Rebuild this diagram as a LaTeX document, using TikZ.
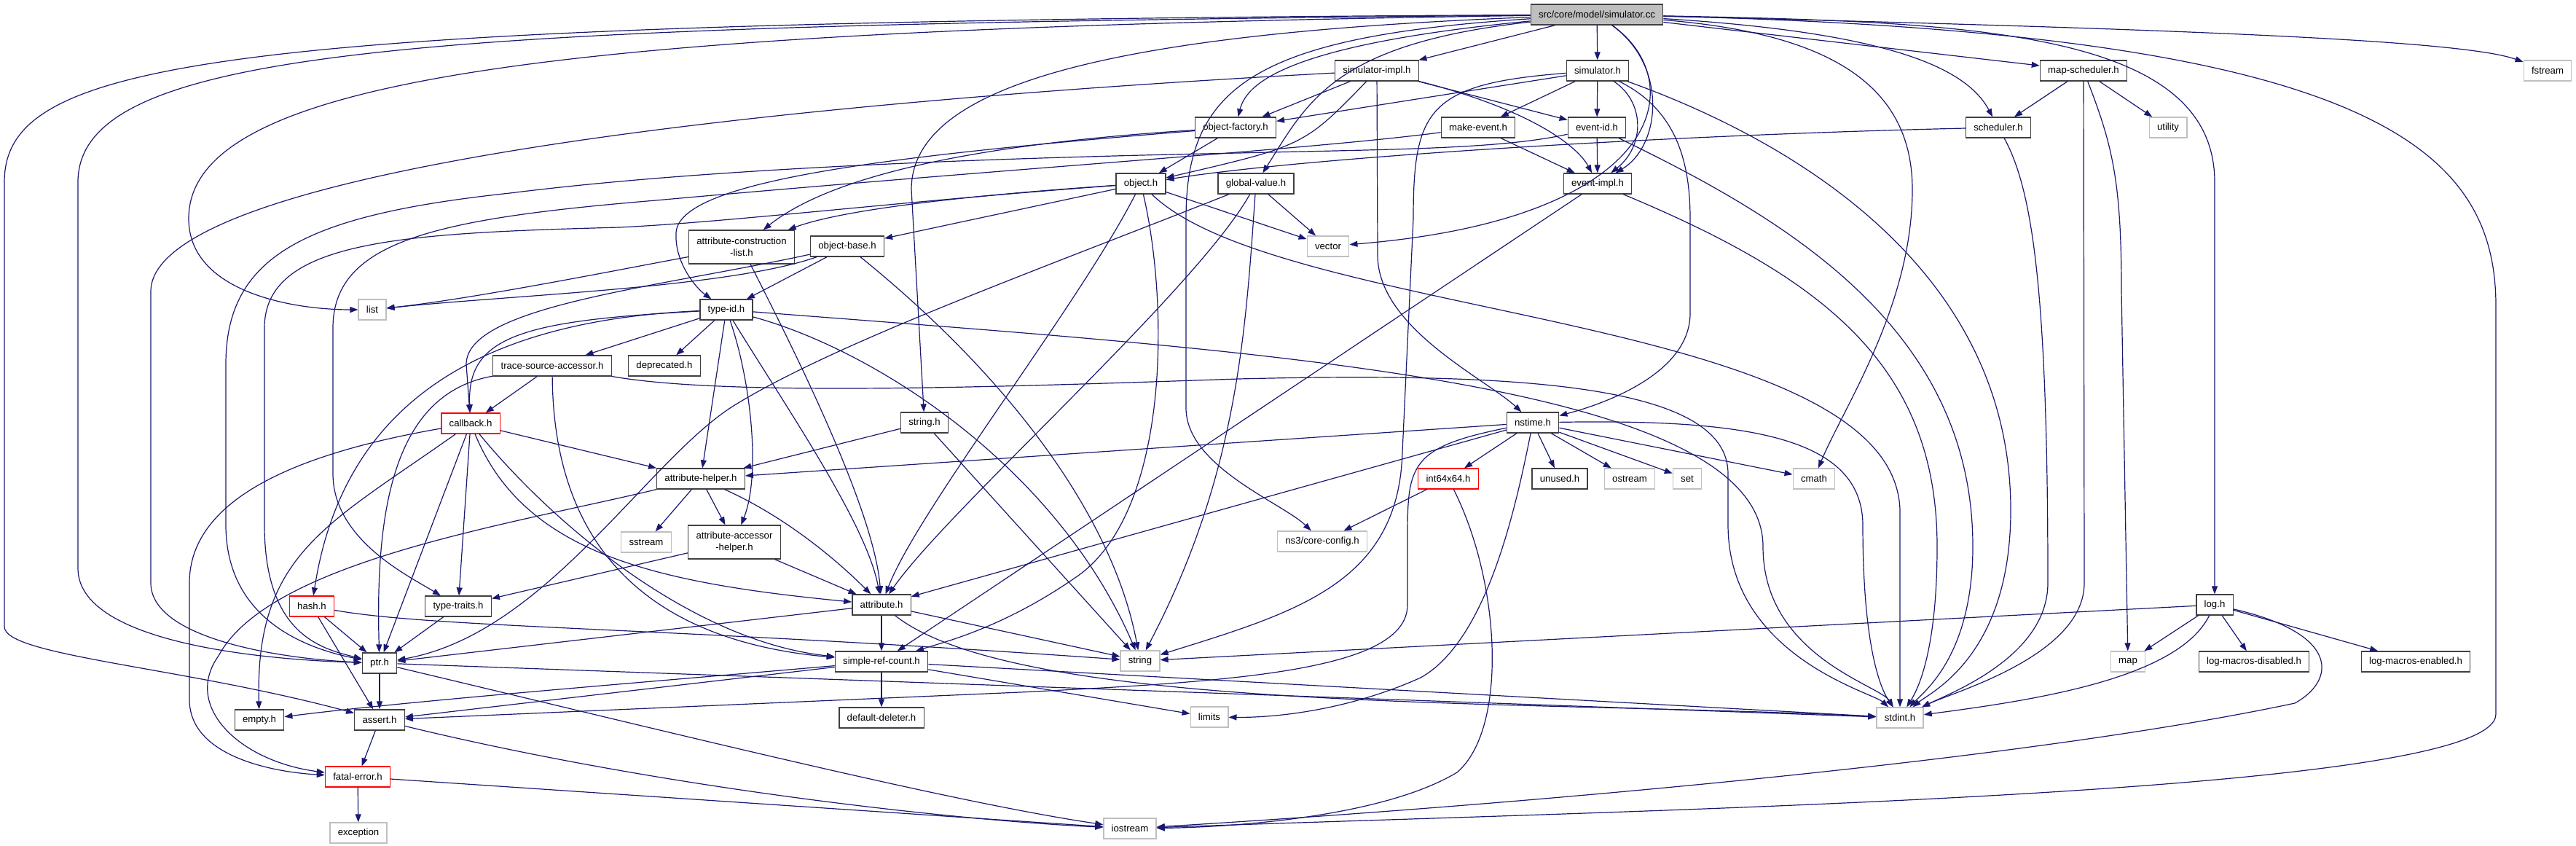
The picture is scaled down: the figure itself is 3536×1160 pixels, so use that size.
\documentclass[tikz,border=0pt]{standalone}
\usepackage{fontspec}
\setmainfont{Liberation Sans}
\usetikzlibrary{arrows.meta}
\definecolor{incblue}{HTML}{191970}
\definecolor{sysgrey}{HTML}{BFBFBF}
\definecolor{boxline}{HTML}{404040}
\tikzset{
  hdr/.style={draw=boxline,line width=1.3pt,fill=white,font=\fontsize{13.2}{15.8}\selectfont,
    inner xsep=10.8pt,inner ysep=0pt,minimum height=28pt,align=center},
  sysh/.style={hdr,draw=sysgrey},
  cuth/.style={hdr,draw=red},
  rooth/.style={hdr,fill=sysgrey},
  twoline/.style={minimum height=46pt},
  inc/.style={draw=incblue,line width=1.2pt,-{Triangle[length=11pt,width=8pt]}}
}

\begin{document}
\begin{tikzpicture}[x=1pt,y=-1pt]
\useasboundingbox (0,0) rectangle (3536,1160);
\node[rooth] (simcc) at (2192,20) {src/core/model/simulator.cc};
\node[hdr] (simimpl) at (1890,97) {simulator-impl.h};
\node[hdr] (simh) at (2193,97) {simulator.h};
\node[hdr] (mapsched) at (2860,97) {map-scheduler.h};
\node[sysh] (fstream) at (3497,97) {fstream};
\node[hdr] (objfact) at (1696,175) {object-factory.h};
\node[hdr] (makeev) at (2029,175) {make-event.h};
\node[hdr] (evid) at (2192,175) {event-id.h};
\node[hdr] (sched) at (2743,175) {scheduler.h};
\node[sysh] (utility) at (2976,175) {utility};
\node[hdr] (object) at (1566,252) {object.h};
\node[hdr] (globval) at (1724,252) {global-value.h};
\node[hdr] (evimpl) at (2193,252) {event-impl.h};
\node[hdr,twoline] (attrcl) at (1018,339) {attribute-construction\\-list.h};
\node[hdr] (objbase) at (1163,338) {object-base.h};
\node[sysh] (vector) at (1823,338) {vector};
\node[sysh] (list) at (511,425) {list};
\node[hdr] (typeid) at (997,425) {type-id.h};
\node[hdr] (tsacc) at (758,502) {trace-source-accessor.h};
\node[hdr] (deprec) at (912,502) {deprecated.h};
\node[cuth] (callback) at (646,581) {callback.h};
\node[hdr] (stringh) at (1269,580) {string.h};
\node[hdr] (nstime) at (2104,580) {nstime.h};
\node[cuth] (int64) at (1988,657) {int64x64.h};
\node[hdr] (unused) at (2141,657) {unused.h};
\node[sysh] (ostream) at (2237,657) {ostream};
\node[sysh] (stdset) at (2316,657) {set};
\node[sysh] (cmath) at (2490,657) {cmath};
\node[hdr] (attrhelp) at (962,657) {attribute-helper.h};
\node[sysh] (sstream) at (887,744) {sstream};
\node[sysh] (coreconf) at (1815,743) {ns3/core-config.h};
\node[hdr,twoline] (attracc) at (1008,744) {attribute-accessor\\-helper.h};
\node[cuth] (hash) at (428,832) {hash.h};
\node[hdr] (typetr) at (629,832) {type-traits.h};
\node[hdr] (attr) at (1210,830) {attribute.h};
\node[hdr] (log) at (3040,830) {log.h};
\node[hdr] (ptr) at (521,910) {ptr.h};
\node[sysh] (string) at (1565,907) {string};
\node[sysh] (map) at (2921,908) {map};
\node[hdr] (logdis) at (3094,908) {log-macros-disabled.h};
\node[hdr] (logen) at (3316,908) {log-macros-enabled.h};
\node[hdr] (srefc) at (1210,908) {simple-ref-count.h};
\node[sysh] (limits) at (1660,984) {limits};
\node[sysh] (stdint) at (2608,985) {stdint.h};
\node[hdr] (empty) at (356,988) {empty.h};
\node[hdr] (assert) at (521,988) {assert.h};
\node[hdr] (deleter) at (1210,985) {default-deleter.h};
\node[cuth] (fatal) at (491,1066) {fatal-error.h};
\node[sysh] (exception) at (492,1143) {exception};
\node[sysh] (iostream) at (1551,1137) {iostream};

\draw[inc] (simcc) -- (simh);
\draw[inc] (simcc) -- (simimpl);
\draw[inc] (simcc) -- (mapsched);
\draw[inc] (simcc) .. controls (2600,45) and (2700,95) .. (sched);
\draw[inc] (simcc) .. controls (3000,40) and (3380,55) .. (fstream);
\draw[inc] (simcc) .. controls (2700,30) and (3040,40) .. (3040,250) -- (log);
\draw[inc] (simcc) .. controls (3250,45) and (3426,200) .. (3426,420) -- (3426,980) .. controls (3426,1090) and (2300,1110) .. (iostream);
\draw[inc] (simcc) .. controls (2500,45) and (2625,110) .. (2625,260) .. controls (2625,420) and (2530,560) .. (cmath);
\draw[inc] (simcc) .. controls (2320,110) and (2290,300) .. (vector);
\draw[inc] (simcc) .. controls (2290,90) and (2280,200) .. (evimpl);
\draw[inc] (simcc) .. controls (1780,60) and (1712,110) .. (objfact);
\draw[inc] (simcc) .. controls (1830,60) and (1795,140) .. (globval);
\draw[inc] (simcc) .. controls (1550,45) and (1251,110) .. (1251,260) -- (stringh);
\draw[inc] (simcc) .. controls (1720,50) and (1628,120) .. (1628,300) -- (1628,560) .. controls (1628,640) and (1760,690) .. (coreconf);
\draw[inc] (simcc) .. controls (800,40) and (259,100) .. (259,300) .. controls (259,400) and (400,425) .. (list);
\draw[inc] (simcc) .. controls (600,35) and (107,60) .. (107,250) -- (107,780) .. controls (107,880) and (350,905) .. (ptr);
\draw[inc] (simcc) .. controls (300,30) and (6,80) .. (6,250) -- (6,860) .. controls (6,900) and (250,915) .. (assert);

\draw[inc] (simimpl) -- (objfact);
\draw[inc] (simimpl) .. controls (1790,200) .. (object);
\draw[inc] (simimpl) -- (evid);
\draw[inc] (simimpl) .. controls (2100,150) and (2165,200) .. (evimpl);
\draw[inc] (simimpl) -- (1891,350) .. controls (1891,450) and (2040,520) .. (nstime);
\draw[inc] (simimpl) .. controls (900,150) and (207,250) .. (207,400) -- (207,800) .. controls (207,880) and (400,905) .. (ptr);

\draw[inc] (simh) -- (objfact);
\draw[inc] (simh) -- (makeev);
\draw[inc] (simh) -- (evid);
\draw[inc] (simh) .. controls (2258,140) and (2258,200) .. (evimpl);
\draw[inc] (simh) .. controls (2300,150) and (2320,220) .. (2320,300) -- (2320,430) .. controls (2320,520) and (2180,560) .. (nstime);
\draw[inc] (simh) .. controls (2480,200) and (2760,380) .. (2760,700) .. controls (2760,900) and (2650,950) .. (stdint);
\draw[inc] (simh) .. controls (1960,115) and (1940,150) .. (1940,300) -- (1925,620) .. controls (1920,800) and (1780,840) .. (string);

\draw[inc] (mapsched) -- (sched);
\draw[inc] (mapsched) -- (utility);
\draw[inc] (mapsched) -- (2861,800) .. controls (2861,900) and (2680,950) .. (stdint);
\draw[inc] (mapsched) .. controls (2900,200) and (2912,250) .. (2912,400) -- (map);

\draw[inc] (sched) .. controls (2300,185) and (1800,215) .. (object);
\draw[inc] (sched) .. controls (2790,260) and (2811,400) .. (2811,800) .. controls (2811,900) and (2680,950) .. (stdint);

\draw[inc] (evid) -- (evimpl);
\draw[inc] (evid) .. controls (2060,205) and (1900,205) .. (1700,210) .. controls (1200,220) and (900,240) .. (700,265) .. controls (420,295) and (310,350) .. (310,500) -- (310,720) .. controls (310,850) and (420,890) .. (ptr);
\draw[inc] (evid) .. controls (2450,300) and (2708,450) .. (2708,750) .. controls (2708,900) and (2640,950) .. (stdint);

\draw[inc] (makeev) -- (evimpl);
\draw[inc] (makeev) .. controls (1800,205) and (1400,230) .. (900,275) .. controls (600,300) and (457,330) .. (457,450) -- (457,650) .. controls (457,740) and (560,790) .. (typetr);

\draw[inc] (evimpl) -- (srefc);
\draw[inc] (evimpl) .. controls (2500,380) and (2659,500) .. (2659,750) .. controls (2659,900) and (2630,950) .. (stdint);

\draw[inc] (objfact) .. controls (1300,200) and (1130,250) .. (attrcl);
\draw[inc] (objfact) -- (object);
\draw[inc] (objfact) .. controls (1200,215) and (930,250) .. (928,320) .. controls (926,360) and (955,395) .. (typeid);

\draw[inc] (object) -- (vector);
\draw[inc] (object) .. controls (1300,270) and (1150,290) .. (attrcl);
\draw[inc] (object) -- (objbase);
\draw[inc] (object) .. controls (1250,275) and (1000,305) .. (850,312) .. controls (550,320) and (363,330) .. (363,450) -- (363,720) .. controls (363,870) and (440,890) .. (ptr);
\draw[inc] (object) .. controls (1480,420) and (1260,700) .. (attr);
\draw[inc] (object) .. controls (1605,420) and (1605,700) .. (1480,790) .. controls (1380,860) and (1300,880) .. (srefc);
\draw[inc] (object) .. controls (1760,440) and (2600,430) .. (2608,700) -- (stdint);

\draw[inc] (globval) -- (vector);
\draw[inc] (globval) .. controls (1400,380) and (1150,470) .. (1010,555) .. controls (890,628) and (750,870) .. (ptr);
\draw[inc] (globval) .. controls (1640,400) and (1300,700) .. (attr);
\draw[inc] (globval) .. controls (1710,450) and (1700,650) .. (string);

\draw[inc] (objbase) -- (typeid);
\draw[inc] (objbase) .. controls (1000,395) and (700,405) .. (list);
\draw[inc] (objbase) .. controls (900,395) and (640,420) .. (640,500) -- (callback);
\draw[inc] (objbase) .. controls (1400,530) and (1530,720) .. (string);

\draw[inc] (attrcl) .. controls (850,370) and (650,410) .. (list);
\draw[inc] (attrcl) .. controls (1090,480) and (1200,700) .. (attr);

\draw[inc] (typeid) -- (tsacc);
\draw[inc] (typeid) -- (deprec);
\draw[inc] (typeid) -- (attrhelp);
\draw[inc] (typeid) .. controls (1030,520) and (1045,650) .. (attracc);
\draw[inc] (typeid) .. controls (1080,560) and (1190,720) .. (attr);
\draw[inc] (typeid) .. controls (1200,480) and (1450,640) .. (string);
\draw[inc] (typeid) .. controls (1700,480) and (2420,520) .. (2420,750) .. controls (2420,900) and (2580,940) .. (stdint);
\draw[inc] (typeid) .. controls (720,440) and (640,460) .. (callback);
\draw[inc] (typeid) .. controls (650,440) and (470,560) .. (hash);

\draw[inc] (tsacc) -- (callback);
\draw[inc] (tsacc) .. controls (540,540) and (515,700) .. (ptr);
\draw[inc] (tsacc) .. controls (760,760) and (900,880) .. (srefc);
\draw[inc] (tsacc) .. controls (1000,545) and (1400,530) .. (1700,520) .. controls (2100,510) and (2372,530) .. (2372,650) -- (2372,720) .. controls (2372,900) and (2570,950) .. (stdint);

\draw[inc] (callback) -- (attrhelp);
\draw[inc] (callback) -- (ptr);
\draw[inc] (callback) -- (typetr);
\draw[inc] (callback) .. controls (450,720) and (350,760) .. (empty);
\draw[inc] (callback) .. controls (720,760) and (900,800) .. (attr);
\draw[inc] (callback) .. controls (760,720) and (950,880) .. (srefc);
\draw[inc] (callback) .. controls (420,620) and (260,680) .. (260,800) -- (260,960) .. controls (260,1040) and (380,1060) .. (fatal);

\draw[inc] (stringh) -- (attrhelp);
\draw[inc] (stringh) -- (string);

\draw[inc] (nstime) -- (attrhelp);
\draw[inc] (nstime) -- (attr);
\draw[inc] (nstime) .. controls (1930,615) and (1932,640) .. (1932,750) -- (1932,830) .. controls (1932,920) and (1700,935) .. (1400,950) -- (assert);
\draw[inc] (nstime) .. controls (2080,700) and (2040,880) .. (1950,930) .. controls (1850,975) and (1750,985) .. (limits);
\draw[inc] (nstime) -- (int64);
\draw[inc] (nstime) -- (unused);
\draw[inc] (nstime) -- (ostream);
\draw[inc] (nstime) -- (stdset);
\draw[inc] (nstime) -- (cmath);
\draw[inc] (nstime) .. controls (2400,575) and (2556,600) .. (2557,720) .. controls (2557,900) and (2585,950) .. (stdint);

\draw[inc] (int64) -- (coreconf);
\draw[inc] (int64) .. controls (2060,800) and (2070,1000) .. (2000,1060) .. controls (1900,1120) and (1700,1135) .. (iostream);

\draw[inc] (attrhelp) -- (sstream);
\draw[inc] (attrhelp) -- (attracc);
\draw[inc] (attrhelp) .. controls (1080,710) and (1150,770) .. (attr);
\draw[inc] (attrhelp) .. controls (700,720) and (370,770) .. (300,900) .. controls (250,970) and (330,1045) .. (fatal);

\draw[inc] (attracc) -- (attr);
\draw[inc] (attracc) -- (typetr);

\draw[inc] (hash) -- (ptr);
\draw[inc] (hash) -- (assert);
\draw[inc] (hash) .. controls (600,862) and (900,860) .. (string);

\draw[inc] (typetr) -- (ptr);

\draw[inc] (attr) -- (ptr);
\draw[inc] (attr) -- (srefc);
\draw[inc] (attr) -- (string);
\draw[inc] (attr) .. controls (1400,980) and (2100,960) .. (stdint);

\draw[inc] (ptr) -- (assert);
\draw[inc] (ptr) .. controls (900,1000) and (1300,1100) .. (iostream);
\draw[inc] (ptr) -- (stdint);

\draw[inc] (srefc) -- (deleter);
\draw[inc] (srefc) .. controls (900,935) and (560,962) .. (empty);
\draw[inc] (srefc) -- (assert);
\draw[inc] (srefc) -- (stdint);
\draw[inc] (srefc) -- (limits);

\draw[inc] (assert) -- (fatal);
\draw[inc] (assert) .. controls (900,1080) and (1300,1125) .. (iostream);

\draw[inc] (fatal) -- (exception);
\draw[inc] (fatal) -- (iostream);

\draw[inc] (log) -- (map);
\draw[inc] (log) -- (logdis);
\draw[inc] (log) -- (logen);
\draw[inc] (log) .. controls (2990,930) and (2800,960) .. (stdint);
\draw[inc] (log) -- (string);
\draw[inc] (log) .. controls (3215,870) and (3205,935) .. (3150,965) .. controls (2750,1050) and (2000,1110) .. (iostream);
\end{tikzpicture}
\end{document}
